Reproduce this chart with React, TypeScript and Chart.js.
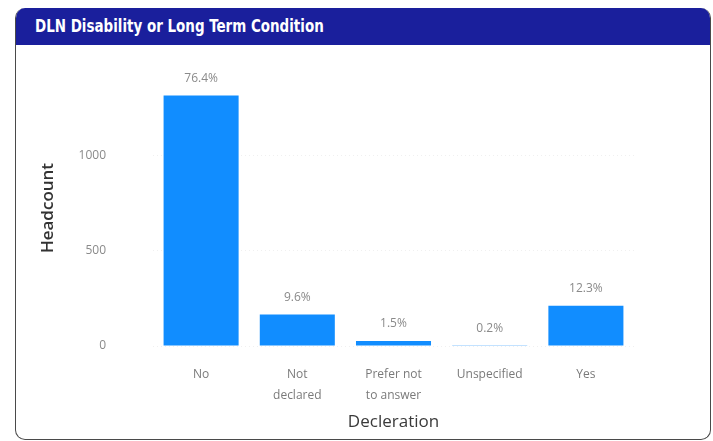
import React, { useEffect, useRef } from "react";
import { Chart, registerables } from "chart.js";

Chart.register(...registerables);

const categories: string[][] = [["No"], ["Not", "declared"], ["Prefer not", "to answer"], ["Unspecified"], ["Yes"]];
const headcounts: number[] = [1316, 165, 26, 4, 212];
const percentLabels: string[] = ["76.4%", "9.6%", "1.5%", "0.2%", "12.3%"];
const yTicks: number[] = [0, 500, 1000];

const BAR_COLOR = "#118DFF";
const HEADER_COLOR = "#1A1F9C";

const dataLabelPlugin = {
  id: "dataLabels",
  afterDatasetsDraw(chart: any) {
    const ctx = chart.ctx;
    const meta = chart.getDatasetMeta(0);
    ctx.save();
    ctx.font = "12px 'Open Sans', sans-serif";
    ctx.fillStyle = "#8a8a8a";
    ctx.textAlign = "center";
    ctx.textBaseline = "bottom";
    meta.data.forEach((bar: any, i: number) => {
      ctx.fillText(percentLabels[i], bar.x, bar.y - 11);
    });
    ctx.restore();
  },
};

export default function App() {
  const canvasRef = useRef<HTMLCanvasElement | null>(null);

  useEffect(() => {
    if (!canvasRef.current) return;
    const chart = new Chart(canvasRef.current, {
      type: "bar",
      data: {
        labels: categories,
        datasets: [
          {
            data: headcounts,
            backgroundColor: BAR_COLOR,
            barPercentage: 0.78,
            categoryPercentage: 1,
          },
        ],
      },
      options: {
        animation: false,
        responsive: false,
        maintainAspectRatio: false,
        layout: { padding: { left: 22, right: 76, top: 25, bottom: 8 } },
        plugins: {
          legend: { display: false },
          tooltip: { enabled: false },
        },
        scales: {
          x: {
            afterFit(scale: any) {
              scale.height = 86;
            },
            grid: { display: false, drawTicks: false, tickLength: 0 },
            border: { display: false },
            ticks: {
              color: "#7a7a7a",
              font: { family: "'Open Sans', sans-serif", size: 12, lineHeight: 1.75 },
              padding: 18,
              maxRotation: 0,
              autoSkip: false,
            },
            title: {
              display: true,
              text: "Decleration",
              color: "#3a3a3a",
              font: { family: "'Open Sans', sans-serif", size: 17 },
              padding: { top: 0, bottom: 0 },
            },
          },
          y: {
            min: 0,
            max: 1450,
            afterBuildTicks(scale: any) {
              scale.ticks = yTicks.map((v) => ({ value: v }));
            },
            afterFit(scale: any) {
              scale.width = 115;
            },
            grid: {
              color: "rgba(0,0,0,0.06)",
              drawTicks: true,
              tickLength: 47,
              tickColor: "rgba(0,0,0,0)",
            },
            border: { display: false, dash: [1, 3] },
            ticks: {
              color: "#8a8a8a",
              font: { family: "'Open Sans', sans-serif", size: 12 },
              padding: 0,
              callback: (v: any) => String(v),
            },
            title: {
              display: true,
              text: "Headcount",
              color: "#333",
              font: { family: "'Open Sans', sans-serif", size: 17, weight: "600" },
              padding: { top: 0, bottom: 0 },
            },
          },
        },
      },
      plugins: [dataLabelPlugin],
    });
    return () => chart.destroy();
  }, []);

  return (
    <div
      style={{
        position: "absolute",
        left: 15,
        top: 8,
        width: 694,
        height: 431,
        border: "1px solid #4a4a4a",
        borderTop: "none",
        borderRadius: 10,
        overflow: "hidden",
        background: "#fff",
      }}
    >
      <div
        style={{
          height: 37,
          background: HEADER_COLOR,
          color: "#fff",
          fontFamily: "'DejaVu Sans Condensed', 'DejaVu Sans', sans-serif",
          fontWeight: "bold",
          fontSize: 17,
          lineHeight: "37px",
          paddingLeft: 19,
          whiteSpace: "nowrap",
        }}
      >
        <span style={{ display: "inline-block", transform: "scaleX(0.88)", transformOrigin: "left center" }}>
          DLN Disability or Long Term Condition
        </span>
      </div>
      <canvas ref={canvasRef} width={694} height={395} style={{ display: "block" }} />
    </div>
  );
}
